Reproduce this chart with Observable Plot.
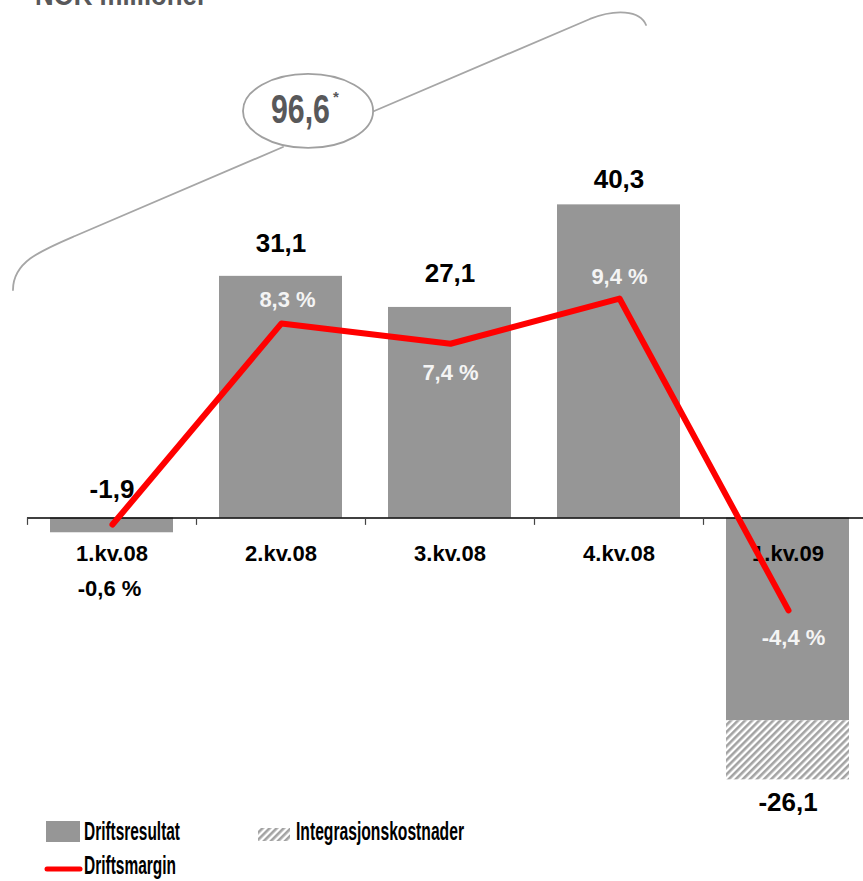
<!DOCTYPE html>
<html><head><meta charset="utf-8">
<script src="https://cdn.jsdelivr.net/npm/d3@7"></script>
<script src="https://cdn.jsdelivr.net/npm/@observablehq/plot@0.6"></script>
<style>
html,body{margin:0;padding:0;background:#fff;overflow:hidden;width:863px;height:881px}
#wrap{position:relative;width:863px;height:881px;overflow:hidden}
#wrap svg{max-width:none !important}
</style></head><body><div id="wrap"></div>
<script>
// ---- data ----
const categories = ["1.kv.08", "2.kv.08", "3.kv.08", "4.kv.08", "1.kv.09"];
const driftsresultat = [-1.9, 31.1, 27.1, 40.3, -26.1];
const integrasjonskostnader = [0, 0, 0, 0, -7.6];
const driftsmargin = [-0.6, 8.3, 7.4, 9.4, -4.4];
const unitTitle = "NOK millioner";
const legendLabels = ["Driftsresultat", "Integrasjonskostnader", "Driftsmargin"];
const sumFootnote = "*";

// ---- setup ----
const fmt = v => v.toFixed(1).replace(".", ",");
const rows = categories.map((c, i) => ({cat: c, res: driftsresultat[i], integ: integrasjonskostnader[i], margin: driftsmargin[i], i}));
const font = "Liberation Sans, Arial, Helvetica, sans-serif";
const W = 872, H = 881, ML = 27;
const step = (W - ML) / categories.length;
const xOpts = {domain: categories, paddingInner: 0.272, paddingOuter: 0.136, axis: null};
const layerStyle = {position: "absolute", left: "0px", top: "0px", background: "transparent", overflow: "visible", fontFamily: font, maxWidth: "none"};

const valueDy = [-28, -33, -34, -25, 23];
const marginDy = [64, -23, 29, -22, 28];
const marginDx = [-3, 6, 0, 0, 5];
const marginFill = ["#000000", "#f4f4f4", "#f4f4f4", "#f4f4f4", "#f4f4f4"];
const barGrey = "#969696";

const wrap = document.getElementById("wrap");

// ---- layer 1: bars (NOK millioner) ----
const p1 = Plot.plot({
  width: W, height: H, marginLeft: ML, marginRight: 0, marginTop: 0, marginBottom: 0,
  x: xOpts,
  y: {domain: [-46.78, 66.6], range: [H, 0], axis: null},
  style: layerStyle,
  marks: [
    Plot.barY(rows, {x: "cat", y1: 0, y2: "res", fill: barGrey}),
    Plot.barY(rows.filter(d => d.integ < 0), {x: "cat", y1: d => d.res, y2: d => d.res + d.integ, fill: "url(#hatch)"}),
    Plot.ruleY([0], {stroke: "#000", strokeWidth: 1.5}),
    Plot.ruleX(categories, {x: d => d, y1: 0, y2: -0.95, dx: -step / 2, stroke: "#444", strokeWidth: 1.2}),
    Plot.text(rows, {x: "cat", y: 0, dy: 36, text: "cat", fontSize: 22, fontWeight: "bold", fill: "#000"}),
    ...rows.map(d => Plot.text([d], {
      x: "cat",
      y: r => r.res > 0 ? r.res : (r.integ < 0 ? r.res + r.integ : 0),
      dy: valueDy[d.i], text: r => fmt(r.res), fontSize: 26, fontWeight: "bold", fill: "#000"
    }))
  ]
});
wrap.append(p1);

// hatch pattern
const defs = d3.select(p1).insert("defs", ":first-child");
const pat = defs.append("pattern").attr("id", "hatch").attr("patternUnits", "userSpaceOnUse")
  .attr("width", 5).attr("height", 5).attr("patternTransform", "rotate(45)");
pat.append("rect").attr("width", 5).attr("height", 5).attr("fill", "#ffffff");
pat.append("rect").attr("width", 2.6).attr("height", 5).attr("fill", "#a3a3a3");

// ---- annotation: sum of the four 2008 quarters ----
const X = p1.scale("x"), Y = p1.scale("y");
const px = i => X.apply(categories[0]) + X.bandwidth / 2 + i * X.step;
const py = v => Y.apply(v);
const sum08 = driftsresultat.slice(0, 4).reduce((a, b) => a + b, 0);
const ann = d3.select(p1).append("g").attr("text-anchor", "start");
const P = (i, v) => `${px(i)},${py(v)}`;
ann.append("path")
  .attr("d", `M${P(-0.583, 29.28)} C${P(-0.583, 32.88)} ${P(-0.423, 34.30)} ${P(-0.216, 36.23)} L${P(1.015, 47.68)}
              M${P(1.541, 52.19)} L${P(2.831, 64.16)} C${P(2.979, 65.44)} ${P(3.127, 65.32)} ${P(3.163, 63.38)}`)
  .attr("fill", "none").attr("stroke", "#a6a6a6").attr("stroke-width", 1.8).attr("stroke-linecap", "round");
ann.append("ellipse").attr("cx", px(1.163)).attr("cy", py(52.32))
  .attr("rx", 0.385 * X.step).attr("ry", py(52.32 - 4.76) - py(52.32))
  .attr("fill", "#fff").attr("stroke", "#a0a0a0").attr("stroke-width", 1.8);
ann.append("text").attr("x", px(1.115) - 29).attr("y", py(52.32) + 12)
  .attr("text-anchor", "start").attr("font-family", font).attr("font-weight", "bold")
  .attr("font-size", 40).attr("fill", "#58585a")
  .attr("textLength", 59).attr("lengthAdjust", "spacingAndGlyphs").text(fmt(sum08));
ann.append("text").attr("x", px(1.115) + 33).attr("y", py(52.32) - 9)
  .attr("text-anchor", "start")
  .attr("font-family", font).attr("font-weight", "bold").attr("font-size", 15).attr("fill", "#58585a").text(sumFootnote);
ann.append("text").attr("x", 35).attr("y", 5).attr("text-anchor", "start")
  .attr("font-family", font).attr("font-weight", "bold").attr("font-size", 30).attr("fill", "#58585a")
  .attr("textLength", 172).attr("lengthAdjust", "spacingAndGlyphs").text(unitTitle);

// ---- layer 2: driftsmargin line (percent) ----
const p2 = Plot.plot({
  width: W, height: H, marginLeft: ML, marginRight: 0, marginTop: 0, marginBottom: 0,
  x: xOpts,
  y: {domain: [-16.394, 22.588], range: [H, 0], axis: null},
  style: layerStyle,
  marks: [
    Plot.lineY(rows, {x: "cat", y: "margin", stroke: "#ff0000", strokeWidth: 6, strokeLinecap: "round", strokeLinejoin: "round"}),
    ...rows.map(d => Plot.text([d], {
      x: "cat", y: "margin", dy: marginDy[d.i], dx: marginDx[d.i],
      text: r => fmt(r.margin) + " %", fontSize: 22, fontWeight: "bold", fill: marginFill[d.i]
    }))
  ]
});
wrap.append(p2);

// ---- legend ----
const lg = d3.select(wrap).append("svg").attr("width", 863).attr("height", 881)
  .style("position", "absolute").style("left", "0px").style("top", "0px").style("pointer-events", "none");
lg.append("rect").attr("x", 46).attr("y", 821).attr("width", 34).attr("height", 21).attr("fill", barGrey);
lg.append("rect").attr("x", 258).attr("y", 828).attr("width", 32).attr("height", 13).attr("fill", "url(#hatch)");
lg.append("line").attr("x1", 47).attr("x2", 80).attr("y1", 869).attr("y2", 869)
  .attr("stroke", "#ff0000").attr("stroke-width", 5).attr("stroke-linecap", "round");
const lgText = (x, y, t, len) => lg.append("text").attr("x", x).attr("y", y)
  .attr("font-family", font).attr("font-weight", "bold").attr("font-size", 25).attr("fill", "#000")
  .attr("textLength", len).attr("lengthAdjust", "spacingAndGlyphs").text(t);
lgText(84, 840, legendLabels[0], 96);
lgText(296, 840, legendLabels[1], 168);
lgText(84, 874, legendLabels[2], 92);
</script></body></html>
